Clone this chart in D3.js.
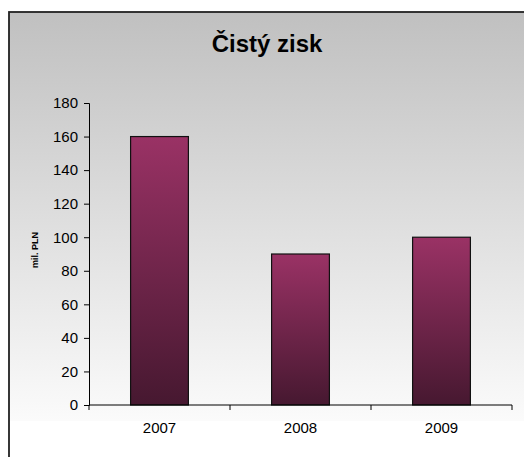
<!DOCTYPE html>
<html>
<head>
<meta charset="utf-8">
<script src="https://d3js.org/d3.v7.min.js"></script>
<style>
  body { margin: 0; background: #fff; }
  text { font-family: "Liberation Sans", Arial, sans-serif; }
</style>
</head>
<body>
<script>
// data
var roky = ["2007", "2008", "2009"];
var zisk = [160, 90, 100];
var yTicks = [0, 20, 40, 60, 80, 100, 120, 140, 160, 180];

var W = 524, H = 457;
var svg = d3.select("body").append("svg")
    .attr("width", W)
    .attr("height", H);

var defs = svg.append("defs");
var bg = defs.append("linearGradient").attr("id", "bg")
    .attr("x1", 0).attr("y1", 0).attr("x2", 0).attr("y2", 1);
bg.append("stop").attr("offset", "0%").attr("stop-color", "#c0c0c0");
bg.append("stop").attr("offset", "100%").attr("stop-color", "#fbfbfb");

var barGrad = defs.append("linearGradient").attr("id", "bar")
    .attr("x1", 0).attr("y1", 0).attr("x2", 0).attr("y2", 1);
barGrad.append("stop").attr("offset", "0%").attr("stop-color", "#9a3265");
barGrad.append("stop").attr("offset", "100%").attr("stop-color", "#461830");

// chart area background
svg.append("rect")
    .attr("x", 9).attr("y", 12)
    .attr("width", W).attr("height", 409)
    .attr("fill", "url(#bg)");

// frame
svg.append("rect")
    .attr("x", 9).attr("y", 12)
    .attr("width", W + 10).attr("height", H + 10)
    .attr("fill", "none")
    .attr("stroke", "#222")
    .attr("stroke-width", 1.8);

// title
svg.append("text")
    .attr("x", 267).attr("y", 52)
    .attr("text-anchor", "middle")
    .style("font-size", "24px")
    .style("font-weight", "bold")
    .text("Čistý zisk");

var x = d3.scaleBand()
    .domain(roky)
    .range([89, 512])
    .paddingInner(0.59)
    .paddingOuter(0.295);

var xAxisScale = d3.scaleBand().domain(roky).range([89, 512]);

var y = d3.scaleLinear()
    .domain([0, 180])
    .range([405, 103]);

// bars
svg.selectAll("rect.bar")
    .data(zisk)
    .enter()
    .append("rect")
    .attr("class", "bar")
    .attr("x", (d, i) => x(roky[i]))
    .attr("y", d => y(d))
    .attr("width", x.bandwidth())
    .attr("height", d => y(0) - y(d))
    .attr("fill", "url(#bar)")
    .attr("stroke", "#111")
    .attr("stroke-width", 1.2);

// y axis
var yAxis = svg.append("g")
    .attr("transform", "translate(89,0)")
    .call(d3.axisLeft(y).tickValues(yTicks).tickSize(5).tickPadding(6));

// x axis: ticks at band boundaries
var xg = svg.append("g").attr("transform", "translate(0,405)");
xg.append("line")
    .attr("x1", 89).attr("x2", 512)
    .attr("stroke", "#000");
var bounds = roky.map(r => xAxisScale(r)).concat([512]);
xg.selectAll("line.tk")
    .data(bounds)
    .enter()
    .append("line")
    .attr("class", "tk")
    .attr("x1", d => d).attr("x2", d => d)
    .attr("y1", 0).attr("y2", 5)
    .attr("stroke", "#000");
xg.selectAll("text")
    .data(roky)
    .enter()
    .append("text")
    .attr("x", d => xAxisScale(d) + xAxisScale.bandwidth() / 2)
    .attr("y", 28)
    .attr("text-anchor", "middle")
    .style("font-size", "15px")
    .text(d => d);

yAxis.select(".domain").attr("stroke", "#000");
yAxis.selectAll(".tick line").attr("stroke", "#000");
yAxis.selectAll(".tick text")
    .style("font-size", "15px")
    .style("font-family", "Liberation Sans, Arial, sans-serif")
    .attr("fill", "#000");

// y axis title
svg.append("text")
    .attr("transform", "translate(38,250) rotate(-90)")
    .attr("text-anchor", "middle")
    .style("font-size", "9px")
    .style("font-weight", "bold")
    .text("mil. PLN");
</script>
</body>
</html>
